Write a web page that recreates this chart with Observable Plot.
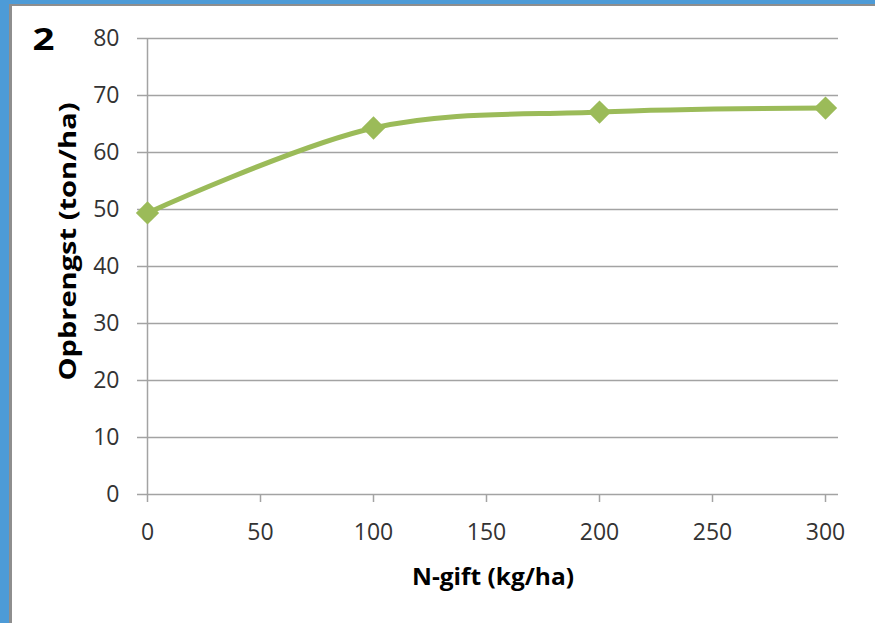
<!DOCTYPE html>
<html>
<head>
<meta charset="utf-8">
<script src="https://cdn.jsdelivr.net/npm/d3@7"></script>
<script src="https://cdn.jsdelivr.net/npm/@observablehq/plot@0.6"></script>
<style>
  html, body { margin: 0; padding: 0; background: #ffffff; }
  .frame {
    width: 875px; height: 623px; box-sizing: border-box;
    border-top: 4px solid #4d9bd7; border-left: 9px solid #4d9bd7;
    overflow: hidden;
  }
  .inner {
    width: 866px; height: 619px; box-sizing: border-box;
    border-top: 2px solid #8e8e8e; border-left: 3px solid #8e8e8e;
    background: #ffffff;
  }
  svg { display: block; }
</style>
</head>
<body>
<div class="frame"><div class="inner" id="chart"></div></div>
<script>
// Nitrogen dose (kg/ha) and yield (ton/ha)
const nGift = [0, 100, 200, 300];
const yieldTon = [49.4, 64.3, 67.1, 67.8];

// Axis ticks
const xTicks = [0, 50, 100, 150, 200, 250, 300];
const yTicks = [0, 10, 20, 30, 40, 50, 60, 70, 80];

const panelLabel = "2";
const xTitle = "N-gift (kg/ha)";
const yTitle = "Opbrengst (ton/ha)";

const rows = nGift.map((n, i) => ({n, y: yieldTon[i]}));

const gridColor = "#a3a3a3";
const lineColor = "#9bbb59";
const W = 863, H = 617;

const chart = Plot.plot({
  width: W,
  height: H,
  marginLeft: 135,
  marginRight: 37,
  marginTop: 32,
  marginBottom: 129,
  style: {background: "transparent", fontFamily: "'Open Sans', sans-serif"},
  x: {domain: [0, 305.75], axis: null},
  y: {domain: [0, 80], axis: null},
  marks: [
    Plot.ruleY(yTicks, {stroke: gridColor, strokeWidth: 1.5}),
    Plot.ruleX([0], {y1: 0, y2: 80, stroke: gridColor, strokeWidth: 1.5}),
    Plot.axisY({
      ticks: yTicks, tickSize: 10, tickPadding: 18, label: null,
      stroke: gridColor, strokeWidth: 1.5, fill: "#333333",
      fontSize: 23
    }),
    Plot.axisX({
      ticks: xTicks, tickSize: 8, tickPadding: 21, label: null,
      stroke: gridColor, strokeWidth: 1.5, fill: "#333333",
      fontSize: 23
    }),
    Plot.line(rows, {x: "n", y: "y", stroke: lineColor, strokeWidth: 5, curve: "cardinal"}),
    Plot.dot(rows, {x: "n", y: "y", symbol: "diamond2", r: 10.5, fill: lineColor, stroke: "none"}),
    Plot.text([panelLabel], {frameAnchor: "top-left", dx: -115, dy: -10, fontSize: 30, fontWeight: "bold", fill: "#000", textAnchor: "start", lineAnchor: "top"}),
    Plot.text([xTitle], {frameAnchor: "bottom", dy: 90, fontSize: 23, fontWeight: "bold", fill: "#000", textAnchor: "middle"}),
    Plot.text([yTitle], {frameAnchor: "left", dx: -79, dy: -25, rotate: -90, fontSize: 23, fontWeight: "bold", fill: "#000", textAnchor: "middle"})
  ]
});

// Title glyph widths (Calibri-like proportions)
const stretch = {[panelLabel]: 22, [xTitle]: 162, [yTitle]: 278};
d3.select(chart).selectAll("text").each(function () {
  const t = this.textContent;
  if (t in stretch) {
    d3.select(this).attr("textLength", stretch[t]).attr("lengthAdjust", "spacingAndGlyphs");
  }
});

document.getElementById("chart").appendChild(chart);
</script>
</body>
</html>
